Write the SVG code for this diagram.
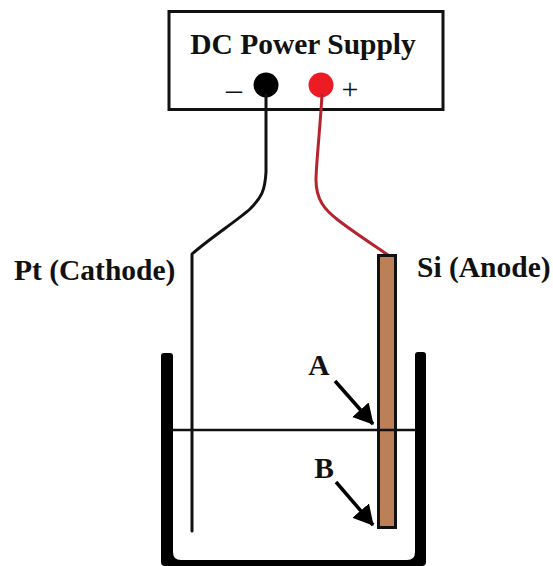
<svg xmlns="http://www.w3.org/2000/svg" width="553" height="566" viewBox="0 0 553 566">
<style>
text{font-family:"Liberation Serif","Times New Roman",serif;font-weight:bold;fill:#111}
.w{fill:none;stroke-linecap:round;stroke-linejoin:round}
</style>
<defs>
<marker id="ah" markerUnits="userSpaceOnUse" markerWidth="22" markerHeight="24" refX="19" refY="11" orient="auto"><path d="M0 0L20 11L0 22Z" fill="#000"/></marker>
</defs>
<rect width="553" height="566" fill="#fff"/>
<g id="power-supply">
<rect x="169" y="11.5" width="274" height="98" fill="#fff" stroke="#111" stroke-width="3"/>
<text x="303" y="54" font-size="29.5" text-anchor="middle">DC Power Supply</text>
<text x="234" y="100" font-size="32" text-anchor="middle" style="font-weight:normal">–</text>
<text x="350" y="99" font-size="30" text-anchor="middle" style="font-weight:normal">+</text>
<circle cx="266" cy="85" r="12.5" fill="#000"/>
<circle cx="321" cy="85" r="12.5" fill="#ed1c24"/>
</g>
<g id="connectors">
<path class="w" d="M266 95V172C265 190 262 197 250 209C238 220 210 238 192 254V531" stroke="#111" stroke-width="3"/>
<path class="w" d="M322 95C320 130 316 165 316 180C316 200 325 210 338 220C352 231 372 244 388 255" stroke="#b5232e" stroke-width="3"/>
<path d="M335 381L373 424" stroke="#000" stroke-width="3.5" marker-end="url(#ah)"/>
<path d="M336 482L373 525" stroke="#000" stroke-width="3.5" marker-end="url(#ah)"/>
</g>
<g id="si-anode">
<rect x="378.5" y="255.5" width="17" height="272" fill="#bd7f58" stroke="#111" stroke-width="3"/>
<text x="417" y="277" font-size="29.5">Si (Anode)</text>
</g>
<g id="pt-cathode">
<text x="14" y="280" font-size="29.5">Pt (Cathode)</text>
</g>
<g id="beaker">
<path d="M161 356Q161 353 164 353H170Q173 353 173 356V552Q173 560 181 560H407Q415 560 415 552V355Q415 352 418 352H423Q426 352 426 355V562Q426 566 422 566H165Q161 566 161 562Z" fill="#000"/>
<path d="M172 430H416" stroke="#111" stroke-width="2.5"/>
</g>
<g id="label-a"><text x="319" y="375" font-size="29.5" text-anchor="middle">A</text></g>
<g id="label-b"><text x="324" y="478" font-size="29.5" text-anchor="middle">B</text></g>
</svg>
